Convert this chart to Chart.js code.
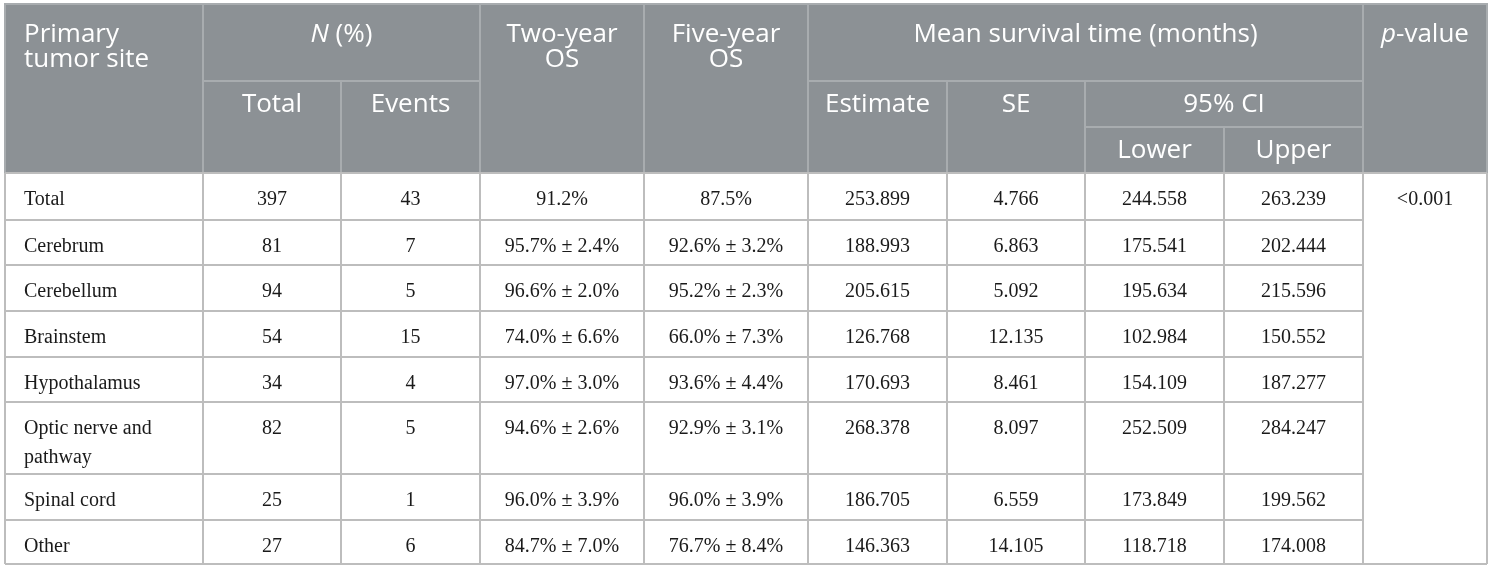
<!DOCTYPE html>
<html>
<head>
<meta charset="utf-8">
<script src="https://cdn.jsdelivr.net/npm/chart.js@4.4.1/dist/chart.umd.min.js"></script>
<style>
    html, body { margin: 0; padding: 0; background: #ffffff; }
    #wrap { width: 1494px; height: 571px; }
</style>
</head>
<body>
<div id="wrap"><canvas id="survival-table"></canvas></div>
<script>
// table values
const sites = ['Total', 'Cerebrum', 'Cerebellum', 'Brainstem', 'Hypothalamus', 'Optic nerve and pathway', 'Spinal cord', 'Other'];
const totals = [397, 81, 94, 54, 34, 82, 25, 27];
const events = [43, 7, 5, 15, 4, 5, 1, 6];
const twoYearOS = [91.2, 95.7, 96.6, 74.0, 97.0, 94.6, 96.0, 84.7];
const twoYearSE = [null, 2.4, 2.0, 6.6, 3.0, 2.6, 3.9, 7.0];
const fiveYearOS = [87.5, 92.6, 95.2, 66.0, 93.6, 92.9, 96.0, 76.7];
const fiveYearSE = [null, 3.2, 2.3, 7.3, 4.4, 3.1, 3.9, 8.4];
const estimates = [253.899, 188.993, 205.615, 126.768, 170.693, 268.378, 186.705, 146.363];
const stdErrors = [4.766, 6.863, 5.092, 12.135, 8.461, 8.097, 6.559, 14.105];
const ciLower = [244.558, 175.541, 195.634, 102.984, 154.109, 252.509, 173.849, 118.718];
const ciUpper = [263.239, 202.444, 215.596, 150.552, 187.277, 284.247, 199.562, 174.008];
const pValue = '<0.001';

// layout (table units map onto the linear scales)
const colEdges = [5, 203, 341, 480, 644, 808, 947, 1085, 1224, 1363, 1487];
const headEdges = [4, 81, 127, 173];
const rowEdges = [173, 220, 265, 311, 357, 402, 474, 520, 564];
const headBaselines = [42, 112, 158];

const headerCells = [
    { runs: [['Primary']], runs2: [['tumor site']], c: [0, 1], r: [0, 3], left: true },
    { runs: [['N', true], [' (%)']], c: [1, 3], r: [0, 1] },
    { runs: [['Two-year']], runs2: [['OS']], c: [3, 4], r: [0, 3] },
    { runs: [['Five-year']], runs2: [['OS']], c: [4, 5], r: [0, 3] },
    { runs: [['Mean survival time (months)']], c: [5, 9], r: [0, 1] },
    { runs: [['p', true], ['-value']], c: [9, 10], r: [0, 3] },
    { runs: [['Total']], c: [1, 2], r: [1, 3] },
    { runs: [['Events']], c: [2, 3], r: [1, 3] },
    { runs: [['Estimate']], c: [5, 6], r: [1, 3] },
    { runs: [['SE']], c: [6, 7], r: [1, 3] },
    { runs: [['95% CI']], c: [7, 9], r: [1, 2] },
    { runs: [['Lower']], c: [7, 8], r: [2, 3] },
    { runs: [['Upper']], c: [8, 9], r: [2, 3] },
];

const HEAD_BG = '#8c9195';
const HEAD_LINE = '#a8acaf';
const BODY_LINE = '#bdbdbd';
const HEAD_FONT = '"Open Sans", sans-serif';
const BODY_FONT = '"Liberation Serif", "Times New Roman", serif';

const pct = (v, se) => (se === null ? v.toFixed(1) + '%' : v.toFixed(1) + '% \u00b1 ' + se.toFixed(1) + '%');

const bodyRows = sites.map((site, i) => [
    site,
    String(totals[i]),
    String(events[i]),
    pct(twoYearOS[i], twoYearSE[i]),
    pct(fiveYearOS[i], fiveYearSE[i]),
    estimates[i].toFixed(3),
    stdErrors[i].toFixed(3),
    ciLower[i].toFixed(3),
    ciUpper[i].toFixed(3),
]);

const wrapText = (ctx, text, maxWidth) => {
    const words = text.split(' ');
    const lines = [];
    let line = '';
    words.forEach((word) => {
        const test = line ? line + ' ' + word : word;
        if (line && ctx.measureText(test).width > maxWidth) {
            lines.push(line);
            line = word;
        } else {
            line = test;
        }
    });
    lines.push(line);
    return lines;
};

const drawRuns = (ctx, runs, x, y, align) => {
    const fontFor = (italic) => (italic ? 'italic ' : '') + '400 26px ' + HEAD_FONT;
    const widths = runs.map(([t, italic]) => {
        ctx.font = fontFor(italic);
        return ctx.measureText(t).width;
    });
    const total = widths.reduce((a, b) => a + b, 0);
    let cx = align === 'left' ? x : x - total / 2;
    ctx.textAlign = 'left';
    runs.forEach(([t, italic], k) => {
        ctx.font = fontFor(italic);
        ctx.fillText(t, cx, y);
        cx += widths[k];
    });
};

const tablePlugin = {
    id: 'tablePlugin',
    beforeDatasetsDraw(chart) {
        const { ctx, scales } = chart;
        const px = (v) => scales.x.getPixelForValue(v);
        const py = (v) => scales.y.getPixelForValue(v);
        const x0 = px(colEdges[0]);
        const x1 = px(colEdges[colEdges.length - 1]);

        ctx.save();

        // header block
        ctx.fillStyle = HEAD_BG;
        ctx.fillRect(x0, py(headEdges[0]), x1 - x0, py(headEdges[3]) - py(headEdges[0]));

        ctx.strokeStyle = HEAD_LINE;
        ctx.lineWidth = 2;
        headerCells.forEach((cell) => {
            const l = px(colEdges[cell.c[0]]);
            const r = px(colEdges[cell.c[1]]);
            const t = py(headEdges[cell.r[0]]);
            const b = py(headEdges[cell.r[1]]);
            ctx.strokeRect(l, t, r - l, b - t);
        });

        ctx.fillStyle = '#ffffff';
        ctx.textBaseline = 'alphabetic';
        headerCells.forEach((cell) => {
            const l = px(colEdges[cell.c[0]]);
            const r = px(colEdges[cell.c[1]]);
            const base = py(headBaselines[cell.r[0]]);
            const x = cell.left ? l + 19 : (l + r) / 2;
            const align = cell.left ? 'left' : 'center';
            drawRuns(ctx, cell.runs, x, base, align);
            if (cell.runs2) {
                drawRuns(ctx, cell.runs2, x, base + 25, align);
            }
        });

        // body grid
        ctx.strokeStyle = BODY_LINE;
        ctx.lineWidth = 2;
        ctx.beginPath();
        rowEdges.forEach((edge, k) => {
            const end = k === rowEdges.length - 1 || k === 0 ? x1 : px(colEdges[9]);
            ctx.moveTo(x0, py(edge));
            ctx.lineTo(end, py(edge));
        });
        colEdges.forEach((edge) => {
            ctx.moveTo(px(edge), py(rowEdges[0]));
            ctx.lineTo(px(edge), py(rowEdges[rowEdges.length - 1]));
        });
        ctx.stroke();

        // body text
        ctx.fillStyle = '#1a1a1a';
        ctx.font = '400 20px ' + BODY_FONT;
        bodyRows.forEach((row, i) => {
            const base = py(rowEdges[i]) + 32;
            row.forEach((text, j) => {
                const l = px(colEdges[j]);
                const r = px(colEdges[j + 1]);
                if (j === 0) {
                    ctx.textAlign = 'left';
                    wrapText(ctx, text, r - l - 36).forEach((line, k) => {
                        ctx.fillText(line, l + 19, base + k * 29);
                    });
                } else {
                    ctx.textAlign = 'center';
                    ctx.fillText(text, (l + r) / 2, base);
                }
            });
        });
        ctx.textAlign = 'center';
        ctx.fillText(pValue, (px(colEdges[9]) + px(colEdges[10])) / 2, py(rowEdges[0]) + 32);

        ctx.restore();
    },
};

new Chart(document.getElementById('survival-table'), {
    type: 'scatter',
    data: {
        datasets: [{
            data: sites.map((site, i) => ({ x: colEdges[0], y: rowEdges[i] })),
            pointRadius: 0,
            showLine: false,
        }],
    },
    options: {
        responsive: true,
        maintainAspectRatio: false,
        animation: false,
        layout: { padding: 0 },
        plugins: {
            legend: { display: false },
            tooltip: { enabled: false },
        },
        scales: {
            x: { type: 'linear', min: 0, max: 1494, display: false },
            y: { type: 'linear', min: 0, max: 571, reverse: true, display: false },
        },
    },
    plugins: [tablePlugin],
});
</script>
</body>
</html>
